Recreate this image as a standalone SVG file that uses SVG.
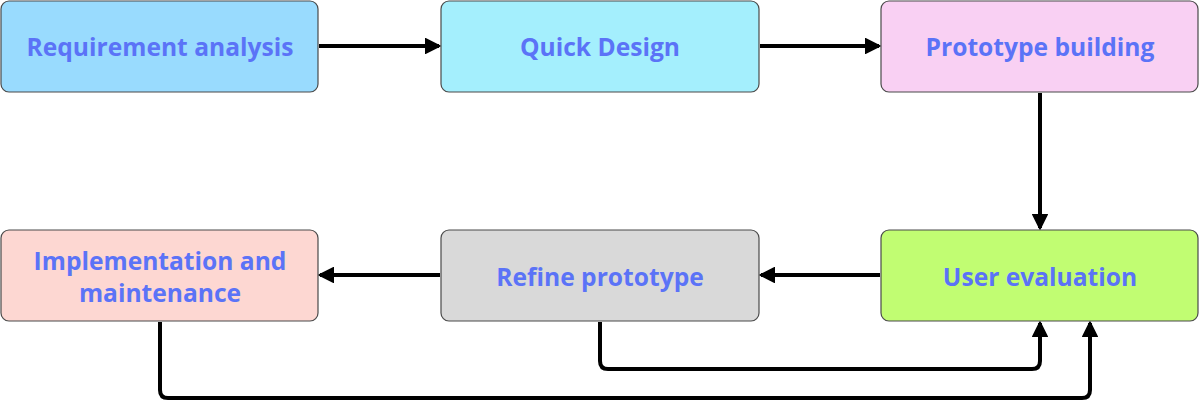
<svg xmlns="http://www.w3.org/2000/svg" width="1200" height="412" viewBox="0 0 1200 412">
<style>
.box{stroke:#4a4a4a;stroke-width:1.2}
.lbl{font-family:"Open Sans","Liberation Sans",sans-serif;font-weight:700;font-size:24.6px;fill:#5b73f7;text-anchor:middle;dominant-baseline:central}
.conn{fill:none;stroke:#000;stroke-width:4;stroke-linejoin:round;stroke-linecap:butt}
</style>
<defs>
<marker id="ah" viewBox="0 0 10 10" refX="9" refY="5" markerWidth="4" markerHeight="4" orient="auto" markerUnits="strokeWidth">
<path d="M0.5,0.5 L9.5,5 L0.5,9.5 Z" fill="#000" stroke="#000" stroke-width="1" stroke-linejoin="round"/>
</marker>
</defs>
<rect width="1200" height="412" fill="#fff"/>
<g id="n1"><rect class="box" x="1" y="1" width="317" height="91" rx="8" fill="#99dbfe"/><text class="lbl" x="160" y="46">Requirement analysis</text></g>
<g id="n2"><rect class="box" x="441" y="1" width="318" height="91" rx="8" fill="#a4effd"/><text class="lbl" x="600" y="46">Quick Design</text></g>
<g id="n3"><rect class="box" x="881" y="1" width="317" height="91" rx="8" fill="#f9d0f3"/><text class="lbl" x="1040" y="46">Prototype building</text></g>
<g id="n4"><rect class="box" x="881" y="230" width="317" height="91" rx="8" fill="#c1fd72"/><text class="lbl" x="1040" y="276">User evaluation</text></g>
<g id="n5"><rect class="box" x="441" y="230" width="318" height="91" rx="8" fill="#d9d9d9"/><text class="lbl" x="600" y="276">Refine prototype</text></g>
<g id="n6"><rect class="box" x="1" y="230" width="317" height="91" rx="8" fill="#fdd7d2"/><text class="lbl" x="160" y="260">Implementation and</text><text class="lbl" x="160" y="292">maintenance</text></g>
<g id="connectors">
<path class="conn" d="M319,46 H439" marker-end="url(#ah)"/>
<path class="conn" d="M760,46 H879" marker-end="url(#ah)"/>
<path class="conn" d="M1040,93 V228" marker-end="url(#ah)"/>
<path class="conn" d="M880,275 H761" marker-end="url(#ah)"/>
<path class="conn" d="M440,275 H320" marker-end="url(#ah)"/>
<path class="conn" d="M600,322 V361 Q600,369 608,369 H1032 Q1040,369 1040,361 V323" marker-end="url(#ah)"/>
<path class="conn" d="M160,322 V390 Q160,398 168,398 H1082 Q1090,398 1090,390 V323" marker-end="url(#ah)"/>
</g>
</svg>
